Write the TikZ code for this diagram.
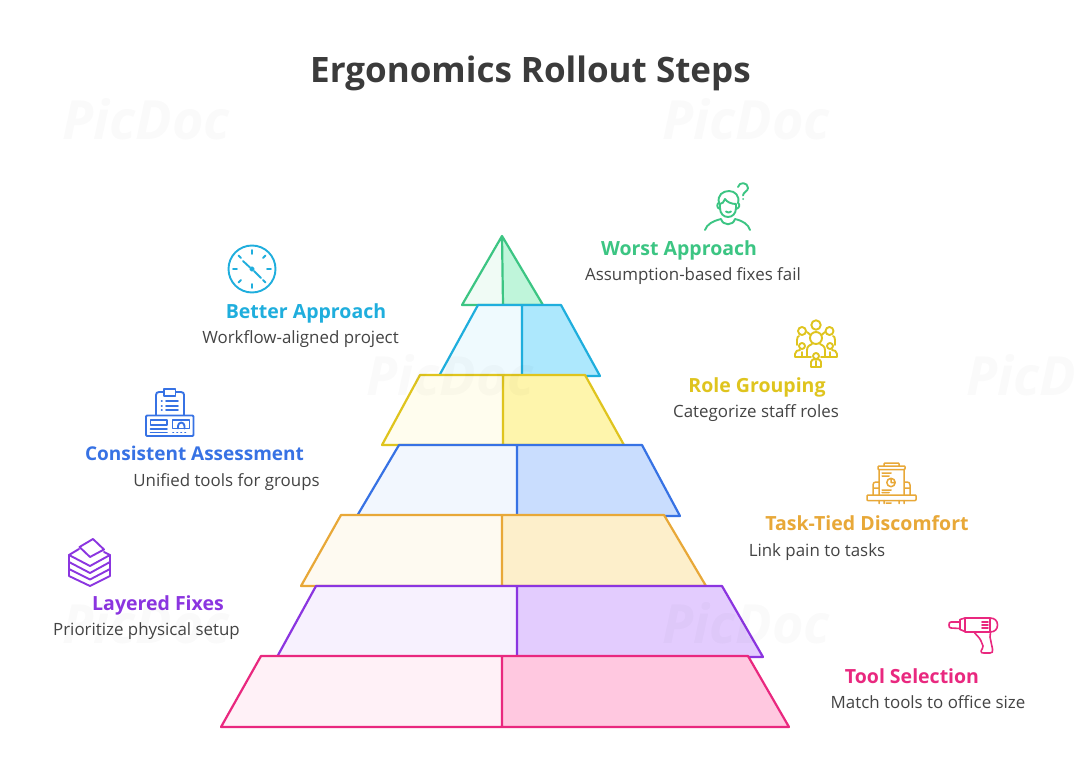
\documentclass[tikz,border=0pt]{standalone}
\usepackage{fontspec}
\setmainfont{Open Sans}
\definecolor{cgreen}{HTML}{3CC583}\definecolor{cblue}{HTML}{1FAEDD}\definecolor{cyellow}{HTML}{DFC41E}
\definecolor{croyal}{HTML}{3772E4}\definecolor{corange}{HTML}{E8A838}\definecolor{cpurple}{HTML}{8B35E0}\definecolor{cpink}{HTML}{E9287F}
\definecolor{ink}{HTML}{3B3B3B}\definecolor{desc}{HTML}{444444}
\definecolor{gl}{HTML}{F0FBF5}\definecolor{gr}{HTML}{BFF5DA}
\definecolor{bl}{HTML}{EFFAFE}\definecolor{br}{HTML}{ADE8FD}
\definecolor{yl}{HTML}{FFFDEE}\definecolor{yr}{HTML}{FEF5AC}
\definecolor{rl}{HTML}{F2F7FE}\definecolor{rr}{HTML}{C9DDFE}
\definecolor{ol}{HTML}{FEFAF1}\definecolor{or}{HTML}{FDEFCB}
\definecolor{pl}{HTML}{F7F1FE}\definecolor{pr}{HTML}{E3CCFE}
\definecolor{kl}{HTML}{FFF1F7}\definecolor{kr}{HTML}{FFC8E0}
\tikzset{
 lvl/.style={draw=#1,line width=2.2pt,line join=round},
 icon/.style={draw=#1,line width=1.9pt,line join=round,line cap=round,fill=none},
 ttl/.style={font=\fontsize{35}{40}\selectfont\bfseries,text=ink,inner sep=0pt,anchor=base},
 head/.style={font=\fontsize{19.5}{22}\selectfont\bfseries,text=#1,inner sep=0pt,anchor=base},
 body/.style={font=\fontsize{16.9}{20}\selectfont,text=desc,inner sep=0pt,anchor=base},
 wmark/.style={font=\fontsize{54}{58}\selectfont\bfseries\itshape,text=black,text opacity=0.018,inner sep=0pt,anchor=base}
}
\begin{document}
\begin{tikzpicture}[x=1pt,y=-1pt]
\useasboundingbox (0,0) rectangle (1078,778);
\fill[white] (0,0) rectangle (1078,778);
% pyramid
\fill[gl] (502,236) -- (503,305) -- (462,305) -- cycle;
\fill[gr] (502,236) -- (503,305) -- (543,305) -- cycle;
\draw[lvl=cgreen] (502,236) -- (543,305) -- (462,305) -- cycle (502,236) -- (503,305);
\fill[bl] (478,305) -- (522,305) -- (522,376) -- (439,376) -- cycle;
\fill[br] (522,305) -- (561,305) -- (600,376) -- (522,376) -- cycle;
\draw[lvl=cblue] (478,305) -- (561,305) -- (600,376) -- (439,376) -- cycle (522,305) -- (522,376);
\fill[yl] (420,375) -- (503,375) -- (503,445) -- (382,445) -- cycle;
\fill[yr] (503,375) -- (585,375) -- (624,445) -- (503,445) -- cycle;
\draw[lvl=cyellow] (420,375) -- (585,375) -- (624,445) -- (382,445) -- cycle (503,375) -- (503,445);
\fill[rl] (399,445) -- (517,445) -- (517,516) -- (357,516) -- cycle;
\fill[rr] (517,445) -- (642,445) -- (680,516) -- (517,516) -- cycle;
\draw[lvl=croyal] (399,445) -- (642,445) -- (680,516) -- (357,516) -- cycle (517,445) -- (517,516);
\fill[ol] (341,515) -- (502,515) -- (502,586) -- (301,586) -- cycle;
\fill[or] (502,515) -- (664,515) -- (706,586) -- (502,586) -- cycle;
\draw[lvl=corange] (341,515) -- (664,515) -- (706,586) -- (301,586) -- cycle (502,515) -- (502,586);
\fill[pl] (316,586) -- (517,586) -- (517,657) -- (277,657) -- cycle;
\fill[pr] (517,586) -- (722,586) -- (763,657) -- (517,657) -- cycle;
\draw[lvl=cpurple] (316,586) -- (722,586) -- (763,657) -- (277,657) -- cycle (517,586) -- (517,657);
\fill[kl] (261,656) -- (502,656) -- (502,727) -- (221,727) -- cycle;
\fill[kr] (502,656) -- (748,656) -- (789,727) -- (502,727) -- cycle;
\draw[lvl=cpink] (261,656) -- (748,656) -- (789,727) -- (221,727) -- cycle (502,656) -- (502,727);
% texts
\node[ttl] (title) at (530.5,83) {Ergonomics Rollout Steps};
\node[head=cgreen] (h1) at (679,255.5) {Worst Approach};
\node[body] (d1) at (693,280) {Assumption-based fixes fail};
\node[head=cblue] (h2) at (306,318.5) {Better Approach};
\node[body] (d2) at (300.5,343) {Workflow-aligned project};
\node[head=cyellow] (h3) at (757,392.5) {Role Grouping};
\node[body] (d3) at (756,417) {Categorize staff roles};
\node[head=croyal,font=\fontsize{19}{22}\selectfont\bfseries] (h4) at (194.5,460.5) {Consistent Assessment};
\node[body] (d4) at (226.5,486) {Unified tools for groups};
\node[head=corange] (h5) at (867,530.5) {Task-Tied Discomfort};
\node[body] (d5) at (817,556) {Link pain to tasks};
\node[head=cpurple] (h6) at (158,610.5) {Layered Fixes};
\node[body] (d6) at (146.5,635) {Prioritize physical setup};
\node[head=cpink] (h7) at (912,683.5) {Tool Selection};
\node[body] (d7) at (928,708) {Match tools to office size};
% icon: person
\draw[icon=cgreen] (705,230) .. controls (707,224) and (713,221) .. (721,219) .. controls (723,226) and (733,226) .. (735,219) .. controls (743,221) and (748,224) .. (750,230);
\draw[icon=cgreen] (720,208) .. controls (720,214) and (724,217) .. (728,217) .. controls (732,217) and (736,214) .. (736,208);
\draw[icon=cgreen] (720,209) .. controls (716,208) and (717,203) .. (719,203) .. controls (717,195) and (723,191) .. (729,191) .. controls (735,191) and (740,196) .. (738,203) .. controls (740,204) and (740,208) .. (736,209) -- (736,204) .. controls (731,204) and (727,202) .. (725,199) .. controls (724,202) and (722,204) .. (720,204) -- cycle;
\draw[icon=cgreen] (726,211.5) .. controls (727,213) and (730,213) .. (731,211.5);
\draw[icon=cgreen] (738,187) .. controls (739,181.5) and (748,182) .. (748,188) .. controls (748,191.5) and (743,192) .. (743,195.5);
\fill[cgreen] (743,199) circle (1);
% icon: clock
\draw[icon=cblue] (252,269) circle (23.5);
\draw[icon=cblue] (252,250) -- (252,254) (252,284) -- (252,288) (233,269) -- (237,269) (267,269) -- (271,269)
 (238.5,255.5) -- (241,258) (263,280) -- (265.5,282.5) (263,258) -- (265.5,255.5) (238.5,282.5) -- (241,280)
 (243,261) -- (250,267.5) (254,271) -- (261,278);
\draw[icon=cblue] (252,269) circle (1.8);
% icon: group
\draw[icon=cyellow] (816,325) circle (4.7) (802,331) circle (4) (829.5,331) circle (4) (816,338) circle (6) (802,346) circle (3) (830,346) circle (3) (816,356) circle (3);
\draw[icon=cyellow]
 (807,332) -- (810.5,335) (825,332) -- (821.5,335)
 (797,345) -- (797,340) .. controls (797,337) and (798,336.5) .. (799,336)
 (835,345) -- (835,340) .. controls (835,337) and (834,336.5) .. (833,336)
 (795,357) -- (795,354) .. controls (795,351) and (798,350) .. (800,350)
 (837,357) -- (837,354) .. controls (837,351) and (834,350) .. (832,350)
 (795,357) -- (811,357) (821,357) -- (837,357)
 (807,357) -- (807,350) .. controls (807,346) and (810,345) .. (812,344)
 (825,357) -- (825,350) .. controls (825,346) and (822,345) .. (820,344)
 (811,367) -- (811,362) .. controls (811,360) and (813,359) .. (816,359) .. controls (819,359) and (821,360) .. (821,362) -- (821,367) -- cycle
 (816,361) -- (816,367) (802,352) -- (802,357) (830,352) -- (830,357);
% icon: clipboard
\draw[icon=croyal] (156,415) -- (156,395) .. controls (156,393) and (157,392) .. (159,392) -- (164,392) (176,392) -- (181,392) .. controls (183,392) and (184,393) .. (184,395) -- (184,415);
\draw[icon=croyal] (164,389) rectangle (175.5,396);
\draw[icon=croyal,rounded corners=1pt] (146,415.5) rectangle (193.5,436);
\draw[icon=croyal] (161.5,401) -- (162,401) (166,401) -- (178,401) (161.5,406) -- (162,406) (166,406) -- (178,406) (161.5,410) -- (162,410) (166,410) -- (178,410);
\draw[icon=croyal] (150.5,420) rectangle (167,425) (150.5,429) -- (167,429) (150.5,432.5) -- (167,432.5) (172.5,420) rectangle (189.5,428.5);
\draw[icon=croyal] (178,428.5) -- (178,426) .. controls (178,421.5) and (184.5,421.5) .. (184.5,426) -- (184.5,428.5);
\draw[icon=croyal] (173,432.5) -- (173.5,432.5) (177,432.5) -- (177.5,432.5) (181,432.5) -- (181.5,432.5) (185,432.5) -- (185.5,432.5);
% icon: document
\draw[icon=corange,line width=1.5pt,rounded corners=0.8pt] (884,466) -- (884,463) -- (899,463) -- (899,466) (878,466) rectangle (905,469.5) (867,495) rectangle (916,500.5);
\draw[icon=corange,line width=1.5pt] (879,469.5) -- (879,495) (904,469.5) -- (904,495) (882,473) -- (891,473) (882,476) -- (889,476) (882,490) -- (891,490) (882,492.5) -- (889,492.5)
 (879,482) -- (876,482) .. controls (874,482) and (873,483) .. (873,485) -- (873,495) (873,488) -- (879,488)
 (904,482) -- (907,482) .. controls (909,482) and (910,483) .. (910,485) -- (910,495) (904,488) -- (910,488)
 (879,500.5) -- (879,503.5) (884,500.5) -- (884,503.5) (899,500.5) -- (899,503.5) (904,500.5) -- (904,503.5) (886,503) -- (891,503);
\draw[icon=corange,line width=1.5pt] (891,482.5) circle (4.2) (891,482.5) -- (891,478.3) (891,482.5) -- (895.2,482.5);
% icon: drill
\draw[icon=cpink,line width=1.6pt] (960,622) -- (951,622) .. controls (949.5,622) and (949,623) .. (949,625) .. controls (949,627) and (949.5,628) .. (951,628) -- (960,628.5);
\draw[icon=cpink,line width=1.6pt] (960,619.5) -- (960,629.5) -- (965,631.5) -- (965,618) -- cycle;
\draw[icon=cpink,line width=1.6pt] (965,618) -- (990,618) .. controls (995,618) and (997.5,621) .. (997.5,625) .. controls (997.5,629) and (995,632) .. (990,632) -- (965,632);
\draw[icon=cpink,line width=1.6pt] (982,622) -- (988,622) (982,625) -- (988,625) (982,628) -- (988,628) (990,618) -- (990,632);
\draw[icon=cpink,line width=1.6pt] (974,632) .. controls (977,636) and (980,638) .. (981,641) -- (983,646) .. controls (984,648) and (981,649) .. (981,651) .. controls (981,653) and (982,653) .. (984,653) -- (990,653) .. controls (992.5,653) and (993,652) .. (992.5,649) -- (990,637) -- (990.5,632);
% icon: layers
\draw[icon=cpurple] (79,549) -- (69,555) -- (90,566) -- (110,555) -- (104,552);
\draw[icon=cpurple] (69,555) -- (69,576) -- (90,586) -- (110,576) -- (110,555);
\draw[icon=cpurple] (69,562) -- (90,573) -- (110,562) (69,569) -- (90,579.5) -- (110,569);
\draw[icon=cpurple] (79.5,547) -- (93,539) -- (104,549.5) -- (90,557) -- cycle;
% watermarks
\begin{scope}
\clip (0,0) rectangle (1078,778);
\node[wmark] (w1) at (146,140) {PicDoc};
\node[wmark] (w2) at (746,140) {PicDoc};
\node[wmark] (w3) at (450,395) {PicDoc};
\node[wmark] (w4) at (1050,395) {PicDoc};
\node[wmark] (w5) at (146,643) {PicDoc};
\node[wmark] (w6) at (746,643) {PicDoc};
\end{scope}
\end{tikzpicture}
\end{document}
